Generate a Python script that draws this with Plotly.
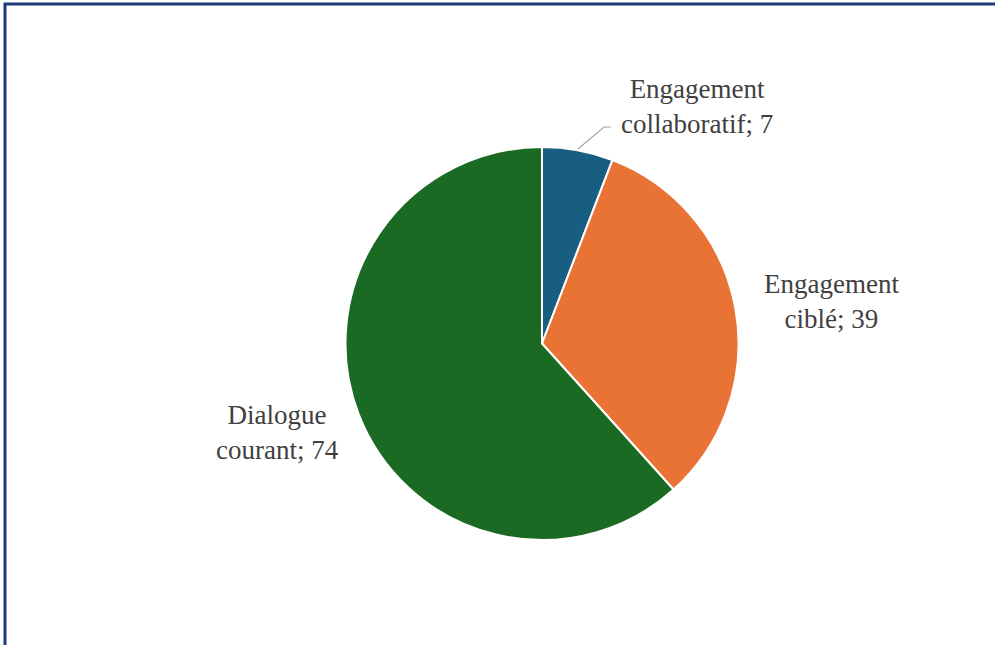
import plotly.graph_objects as go

labels = ["Engagement collaboratif", "Engagement ciblé", "Dialogue courant"]
values = [7, 39, 74]
colors = ["#175E80", "#E97334", "#1B6A23"]

W, H = 995, 645
cx, cy, r = 542, 343.5, 196.5

# label centre positions (pixels)
label_px = [(697, 106), (831, 301), (277, 433)]

fig = go.Figure(go.Pie(
    labels=labels, values=values, sort=False, direction="clockwise", rotation=0,
    marker=dict(colors=colors, line=dict(color="white", width=2)),
    textinfo="none", hoverinfo="label+value", showlegend=False,
    domain=dict(x=[(cx - r) / W, (cx + r) / W], y=[1 - (cy + r) / H, 1 - (cy - r) / H]),
))

for (lab, val), (px, py) in zip(zip(labels, values), label_px):
    first, rest = lab.split(" ", 1)
    fig.add_annotation(x=px / W, y=1 - py / H, xref="paper", yref="paper", showarrow=False,
                       xanchor="center", yanchor="middle",
                       text=f"{first}<br>{rest}; {val}", align="center",
                       font=dict(family="Liberation Serif", size=27, color="#404040"))

# leader line for small slice
fig.add_shape(type="path", xref="paper", yref="paper",
              path=f"M {578/W} {1-149/H} L {604/W} {1-127/H} L {611/W} {1-127/H}",
              line=dict(color="#A6A6A6", width=1.2))

# frame
fig.add_shape(type="rect", xref="paper", yref="paper",
              x0=5 / W, y0=-0.05, x1=1.05, y1=1 - 4 / H,
              line=dict(color="#1F3A78", width=3))

fig.update_layout(width=W, height=H, margin=dict(l=0, r=0, t=0, b=0),
                  paper_bgcolor="white", plot_bgcolor="white")
fig.write_html("out.html")
